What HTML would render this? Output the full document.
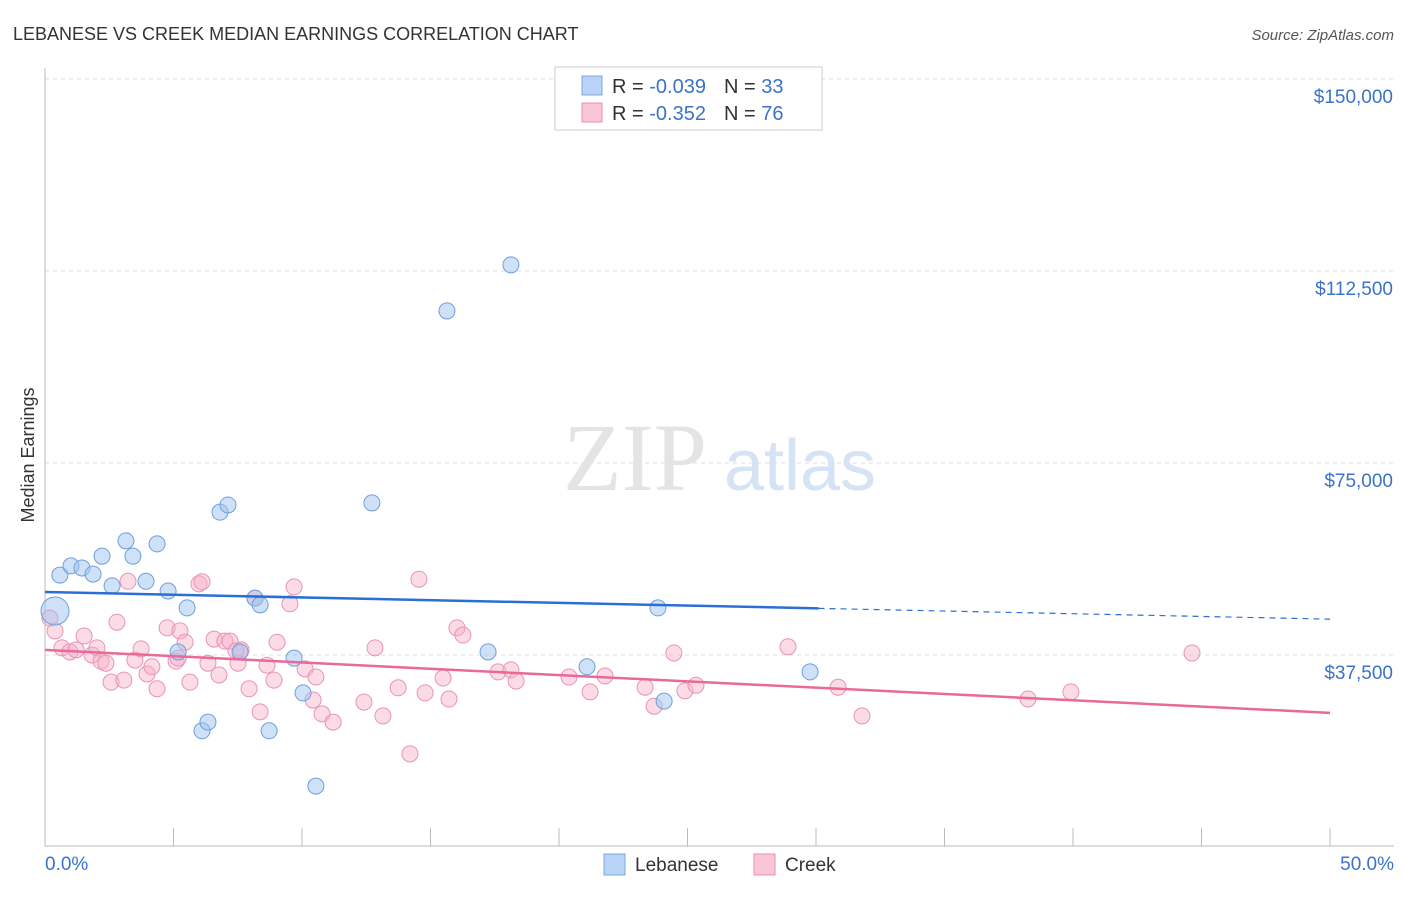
<!DOCTYPE html>
<html><head><meta charset="utf-8"><style>
body{margin:0;background:#fff;font-family:"Liberation Sans",sans-serif;}
svg text{font-family:"Liberation Sans",sans-serif;}
</style></head><body>
<svg id="chart" width="1406" height="892" viewBox="0 0 1406 892" xmlns="http://www.w3.org/2000/svg">
<text x="13" y="40" font-size="18" fill="#333">LEBANESE VS CREEK MEDIAN EARNINGS CORRELATION CHART</text>
<text x="1394" y="40" font-size="15" fill="#555" font-style="italic" text-anchor="end">Source: ZipAtlas.com</text>
<g id="grid"></g>
<g>
<text x="635" y="490" font-size="96" fill="#e4e4e4" style="font-family:'Liberation Serif',serif" text-anchor="middle">ZIP</text>
<text x="800" y="490" font-size="72" fill="#d6e3f5" text-anchor="middle">atlas</text>
</g>
<text transform="translate(34,455) rotate(-90)" font-size="18" fill="#333" text-anchor="middle">Median Earnings</text>
<g id="axes"></g>
<g id="pts"></g>
<g id="trends"></g>
<g>
<rect x="555" y="67" width="267" height="63" fill="#fff" stroke="#ccc"/>
<rect x="582" y="76" width="20" height="19" fill="#b8d3f5" stroke="#7aa8e0"/>
<rect x="582" y="103" width="20" height="19" fill="#f9c6d6" stroke="#e890b0"/>
<text x="612" y="93" font-size="20" fill="#333">R = <tspan fill="#3b73c8"> -0.039</tspan><tspan dx="18">N = </tspan><tspan fill="#3b73c8">33</tspan></text>
<text x="612" y="120" font-size="20" fill="#333">R = <tspan fill="#3b73c8"> -0.352</tspan><tspan dx="18">N = </tspan><tspan fill="#3b73c8">76</tspan></text>
</g>
<g>
<rect x="604" y="854" width="21" height="21" fill="#b8d3f5" stroke="#7aa8e0"/>
<text x="635" y="871" font-size="19" fill="#333">Lebanese</text>
<rect x="754" y="854" width="21" height="21" fill="#f9c6d6" stroke="#e890b0"/>
<text x="785" y="871" font-size="19" fill="#333">Creek</text>
</g>
</svg>
<script>
const xTicks=[0,5,10,15,20,25,30,35,40,45,50];
const yTicks=[37.5,75,112.5,150];
const yTickLabels=["$37,500","$75,000","$112,500","$150,000"];
const lebX=[0.39,0.58,1.01,1.44,1.87,2.22,2.61,3.15,3.42,3.93,4.36,4.79,5.18,5.53,6.11,6.34,6.81,7.12,7.59,8.17,8.37,8.72,9.69,10.04,10.54,12.72,15.64,17.24,18.13,21.09,23.85,24.09,29.77];
const lebY=[46.1,53.1,54.9,54.5,53.3,56.8,51.0,59.8,56.8,51.9,59.2,50.0,38.1,46.7,22.7,24.4,65.4,66.8,38.1,48.6,47.3,22.7,36.9,30.1,11.9,67.2,104.7,38.1,113.7,35.2,46.7,28.5,34.2];
const creekX=[0.19,0.39,0.66,0.97,1.21,1.52,1.83,2.02,2.18,2.37,2.57,2.80,3.07,3.23,3.50,3.74,3.97,4.16,4.36,4.75,5.10,5.25,5.45,5.64,5.99,6.11,6.34,6.58,6.77,7.00,7.20,7.51,7.63,7.94,8.17,8.37,8.64,8.91,9.03,9.53,9.69,10.12,10.43,10.54,10.78,11.21,12.41,12.84,13.15,13.74,14.20,14.55,14.79,15.49,15.72,16.03,16.26,17.63,18.13,18.33,20.39,21.21,21.79,23.35,23.70,24.47,24.90,25.33,28.91,30.86,31.79,38.25,39.92,44.63,5.18,7.43];
const creekY=[44.7,42.2,38.9,38.1,38.5,41.2,37.5,38.9,36.3,35.9,32.2,43.9,32.6,51.9,36.5,38.7,33.8,35.2,30.9,42.8,36.3,42.2,40.0,32.2,51.4,51.8,35.9,40.6,33.6,40.2,40.2,35.9,38.5,30.9,48.6,26.4,35.5,32.6,40.0,47.5,50.8,34.8,28.7,33.2,26.0,24.4,28.3,38.9,25.6,31.1,18.2,52.3,30.1,33.0,28.9,42.8,41.4,34.2,34.6,32.4,33.2,30.3,33.4,31.2,27.5,37.9,30.5,31.6,39.1,31.2,25.6,28.9,30.3,37.9,36.9,38.3];
const lebTrend=[49.8,44.5];
const creekTrend=[38.5,26.2];
const lebSolidEnd=30.1;
const NS="http://www.w3.org/2000/svg";
const sx=v=>45+v*25.7;
const sy=v=>847-v*5.12;
function mk(t,a,p){const e=document.createElementNS(NS,t);for(const k in a)e.setAttribute(k,a[k]);p.appendChild(e);return e;}
const grid=document.getElementById('grid'),axes=document.getElementById('axes');
yTicks.forEach((v,i)=>{
 const l=mk('line',{x1:45,x2:1394,y1:sy(v),y2:sy(v),stroke:'#ddd','stroke-dasharray':'4,4'},grid);
 
 
 const t=mk('text',{x:1393,y:sy(v)+24,'font-size':19,fill:'#3b73c8','text-anchor':'end'},axes);
 t.textContent=yTickLabels[i];
 
 
});
const topGrid=mk('line',{x1:45,x2:1394,y1:79,y2:79,stroke:'#ddd','stroke-dasharray':'4,4'},grid);


mk('line',{x1:45,x2:45,y1:68,y2:846,stroke:'#bbb'},axes);
mk('line',{x1:45,x2:1394,y1:846,y2:846,stroke:'#bbb'},axes);
xTicks.forEach(v=>{
 const l=mk('line',{x1:sx(v),x2:sx(v),y1:828,y2:846,stroke:'#bbb'},axes);
 
 
});
const xl0=mk('text',{x:45,y:870,'font-size':19,fill:'#3b73c8'},axes);xl0.textContent=xTicks[0].toFixed(1)+'%';


const xl1=mk('text',{x:1394,y:870,'font-size':19,fill:'#3b73c8','text-anchor':'end'},axes);xl1.textContent=xTicks[10].toFixed(1)+'%';


const pts=document.getElementById('pts');
creekX.forEach((x,i)=>{
 const c=mk('circle',{cx:sx(x),cy:sy(creekY[i]),r:8,fill:'rgba(246,176,200,0.45)',stroke:'#e994b4','stroke-width':1},pts);
 
 
});
lebX.forEach((x,i)=>{
 const c=mk('circle',{cx:sx(x),cy:sy(lebY[i]),r:i===0?14:8,fill:'rgba(160,196,240,0.5)',stroke:'#6f9fdc','stroke-width':1},pts);
 
 
});
const tr=document.getElementById('trends');
const lf=x=>lebTrend[0]+(lebTrend[1]-lebTrend[0])*x/50;
const l1=mk('line',{x1:sx(0),y1:sy(lf(0)),x2:sx(lebSolidEnd),y2:sy(lf(lebSolidEnd)),stroke:'#2a6fd6','stroke-width':2.5},tr);


const l2=mk('line',{x1:sx(lebSolidEnd),y1:sy(lf(lebSolidEnd)),x2:sx(50),y2:sy(lf(50)),stroke:'#2a6fd6','stroke-width':1.2,'stroke-dasharray':'6,5'},tr);


const l3=mk('line',{x1:sx(0),y1:sy(creekTrend[0]),x2:sx(50),y2:sy(creekTrend[1]),stroke:'#e8699a','stroke-width':2.5},tr);


</script>
</body></html>
